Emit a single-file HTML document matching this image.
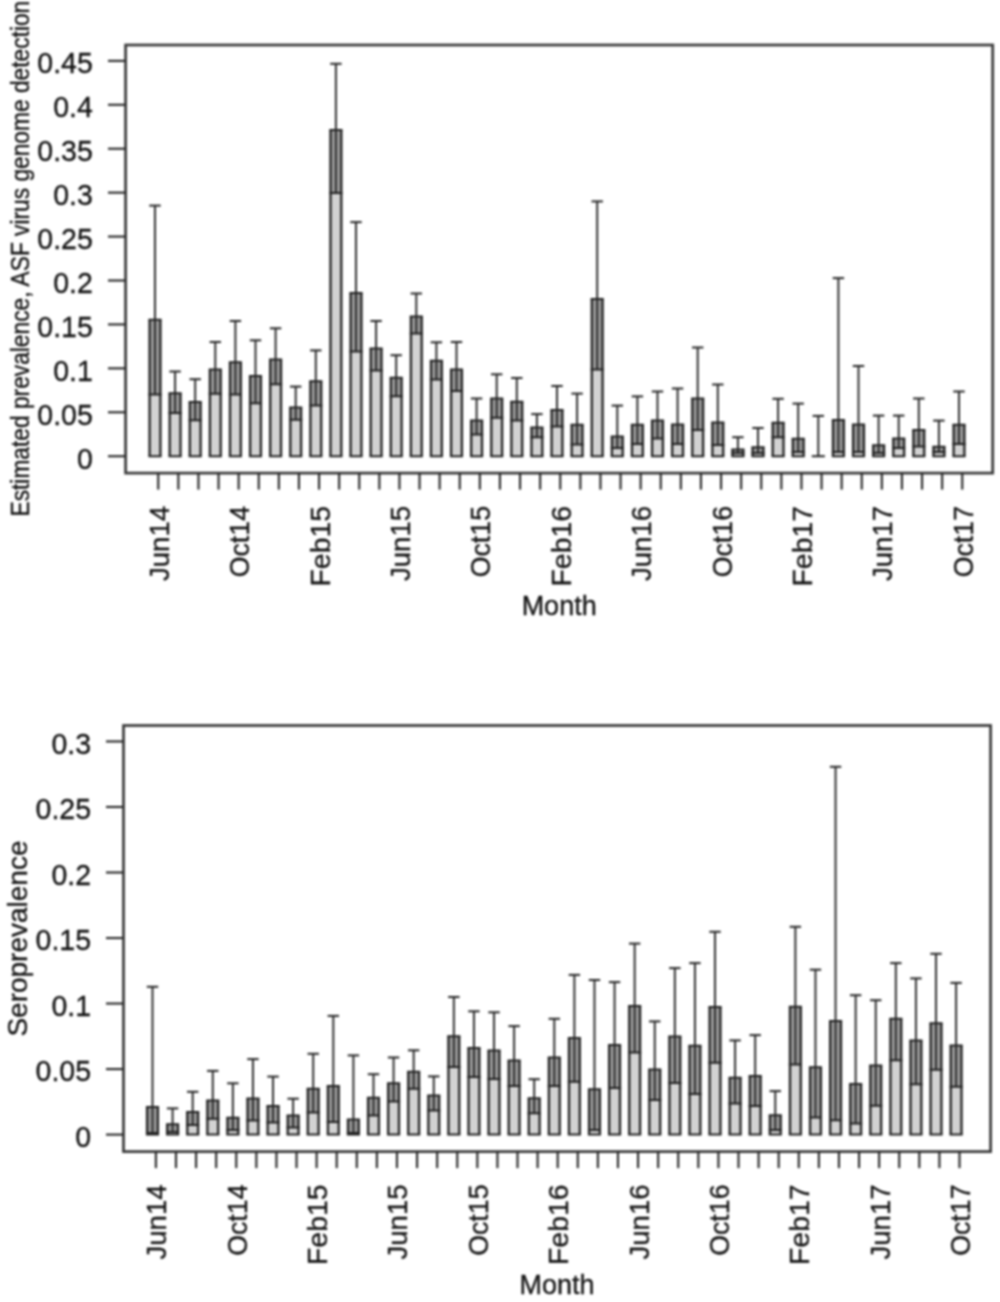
<!DOCTYPE html>
<html><head><meta charset="utf-8"><style>
html,body{margin:0;padding:0;background:#fff;}
svg{display:block;filter:blur(0.8px);}
text{font-family:"Liberation Sans",sans-serif;fill:#111;stroke:#111;stroke-width:0.3px;}
</style></head><body>
<svg width="1000" height="1302" viewBox="0 0 1000 1302">
<rect width="1000" height="1302" fill="#fff"/>
<g>
<rect width="1000" height="1302" fill="#fff"/>
<rect x="149.60" y="319.70" width="10.8" height="74.70" fill="#9c9c9c"/>
<rect x="149.60" y="394.40" width="10.8" height="61.80" fill="#d2d2d2"/>
<line x1="155.00" x2="155.00" y1="394.40" y2="205.60" stroke="#262626" stroke-width="1.9"/>
<line x1="149.30" x2="160.70" y1="205.60" y2="205.60" stroke="#262626" stroke-width="2"/>
<path d="M149.60,456.20V319.70M160.40,456.20V319.70" stroke="#222222" stroke-width="2.3" fill="none"/>
<path d="M148.45,456.20H161.55M148.45,319.70H161.55M148.45,394.40H161.55" stroke="#222222" stroke-width="2.0" fill="none"/>
<rect x="169.70" y="393.30" width="10.8" height="19.70" fill="#9c9c9c"/>
<rect x="169.70" y="413.00" width="10.8" height="43.20" fill="#d2d2d2"/>
<line x1="175.10" x2="175.10" y1="413.00" y2="371.50" stroke="#262626" stroke-width="1.9"/>
<line x1="169.40" x2="180.80" y1="371.50" y2="371.50" stroke="#262626" stroke-width="2"/>
<path d="M169.70,456.20V393.30M180.50,456.20V393.30" stroke="#222222" stroke-width="2.3" fill="none"/>
<path d="M168.55,456.20H181.65M168.55,393.30H181.65M168.55,413.00H181.65" stroke="#222222" stroke-width="2.0" fill="none"/>
<rect x="189.80" y="402.00" width="10.8" height="18.30" fill="#9c9c9c"/>
<rect x="189.80" y="420.30" width="10.8" height="35.90" fill="#d2d2d2"/>
<line x1="195.20" x2="195.20" y1="420.30" y2="379.20" stroke="#262626" stroke-width="1.9"/>
<line x1="189.50" x2="200.90" y1="379.20" y2="379.20" stroke="#262626" stroke-width="2"/>
<path d="M189.80,456.20V402.00M200.60,456.20V402.00" stroke="#222222" stroke-width="2.3" fill="none"/>
<path d="M188.65,456.20H201.75M188.65,402.00H201.75M188.65,420.30H201.75" stroke="#222222" stroke-width="2.0" fill="none"/>
<rect x="209.90" y="369.50" width="10.8" height="24.20" fill="#9c9c9c"/>
<rect x="209.90" y="393.70" width="10.8" height="62.50" fill="#d2d2d2"/>
<line x1="215.30" x2="215.30" y1="393.70" y2="342.00" stroke="#262626" stroke-width="1.9"/>
<line x1="209.60" x2="221.00" y1="342.00" y2="342.00" stroke="#262626" stroke-width="2"/>
<path d="M209.90,456.20V369.50M220.70,456.20V369.50" stroke="#222222" stroke-width="2.3" fill="none"/>
<path d="M208.75,456.20H221.85M208.75,369.50H221.85M208.75,393.70H221.85" stroke="#222222" stroke-width="2.0" fill="none"/>
<rect x="230.00" y="362.20" width="10.8" height="32.20" fill="#9c9c9c"/>
<rect x="230.00" y="394.40" width="10.8" height="61.80" fill="#d2d2d2"/>
<line x1="235.40" x2="235.40" y1="394.40" y2="321.00" stroke="#262626" stroke-width="1.9"/>
<line x1="229.70" x2="241.10" y1="321.00" y2="321.00" stroke="#262626" stroke-width="2"/>
<path d="M230.00,456.20V362.20M240.80,456.20V362.20" stroke="#222222" stroke-width="2.3" fill="none"/>
<path d="M228.85,456.20H241.95M228.85,362.20H241.95M228.85,394.40H241.95" stroke="#222222" stroke-width="2.0" fill="none"/>
<rect x="250.10" y="375.90" width="10.8" height="27.30" fill="#9c9c9c"/>
<rect x="250.10" y="403.20" width="10.8" height="53.00" fill="#d2d2d2"/>
<line x1="255.50" x2="255.50" y1="403.20" y2="340.30" stroke="#262626" stroke-width="1.9"/>
<line x1="249.80" x2="261.20" y1="340.30" y2="340.30" stroke="#262626" stroke-width="2"/>
<path d="M250.10,456.20V375.90M260.90,456.20V375.90" stroke="#222222" stroke-width="2.3" fill="none"/>
<path d="M248.95,456.20H262.05M248.95,375.90H262.05M248.95,403.20H262.05" stroke="#222222" stroke-width="2.0" fill="none"/>
<rect x="270.20" y="359.60" width="10.8" height="24.60" fill="#9c9c9c"/>
<rect x="270.20" y="384.20" width="10.8" height="72.00" fill="#d2d2d2"/>
<line x1="275.60" x2="275.60" y1="384.20" y2="328.30" stroke="#262626" stroke-width="1.9"/>
<line x1="269.90" x2="281.30" y1="328.30" y2="328.30" stroke="#262626" stroke-width="2"/>
<path d="M270.20,456.20V359.60M281.00,456.20V359.60" stroke="#222222" stroke-width="2.3" fill="none"/>
<path d="M269.05,456.20H282.15M269.05,359.60H282.15M269.05,384.20H282.15" stroke="#222222" stroke-width="2.0" fill="none"/>
<rect x="290.30" y="407.50" width="10.8" height="12.30" fill="#9c9c9c"/>
<rect x="290.30" y="419.80" width="10.8" height="36.40" fill="#d2d2d2"/>
<line x1="295.70" x2="295.70" y1="419.80" y2="386.60" stroke="#262626" stroke-width="1.9"/>
<line x1="290.00" x2="301.40" y1="386.60" y2="386.60" stroke="#262626" stroke-width="2"/>
<path d="M290.30,456.20V407.50M301.10,456.20V407.50" stroke="#222222" stroke-width="2.3" fill="none"/>
<path d="M289.15,456.20H302.25M289.15,407.50H302.25M289.15,419.80H302.25" stroke="#222222" stroke-width="2.0" fill="none"/>
<rect x="310.40" y="381.30" width="10.8" height="24.10" fill="#9c9c9c"/>
<rect x="310.40" y="405.40" width="10.8" height="50.80" fill="#d2d2d2"/>
<line x1="315.80" x2="315.80" y1="405.40" y2="350.40" stroke="#262626" stroke-width="1.9"/>
<line x1="310.10" x2="321.50" y1="350.40" y2="350.40" stroke="#262626" stroke-width="2"/>
<path d="M310.40,456.20V381.30M321.20,456.20V381.30" stroke="#222222" stroke-width="2.3" fill="none"/>
<path d="M309.25,456.20H322.35M309.25,381.30H322.35M309.25,405.40H322.35" stroke="#222222" stroke-width="2.0" fill="none"/>
<rect x="330.50" y="129.90" width="10.8" height="63.00" fill="#9c9c9c"/>
<rect x="330.50" y="192.90" width="10.8" height="263.30" fill="#d2d2d2"/>
<line x1="335.90" x2="335.90" y1="192.90" y2="63.80" stroke="#262626" stroke-width="1.9"/>
<line x1="330.20" x2="341.60" y1="63.80" y2="63.80" stroke="#262626" stroke-width="2"/>
<path d="M330.50,456.20V129.90M341.30,456.20V129.90" stroke="#222222" stroke-width="2.3" fill="none"/>
<path d="M329.35,456.20H342.45M329.35,129.90H342.45M329.35,192.90H342.45" stroke="#222222" stroke-width="2.0" fill="none"/>
<rect x="350.60" y="293.10" width="10.8" height="58.50" fill="#9c9c9c"/>
<rect x="350.60" y="351.60" width="10.8" height="104.60" fill="#d2d2d2"/>
<line x1="356.00" x2="356.00" y1="351.60" y2="222.10" stroke="#262626" stroke-width="1.9"/>
<line x1="350.30" x2="361.70" y1="222.10" y2="222.10" stroke="#262626" stroke-width="2"/>
<path d="M350.60,456.20V293.10M361.40,456.20V293.10" stroke="#222222" stroke-width="2.3" fill="none"/>
<path d="M349.45,456.20H362.55M349.45,293.10H362.55M349.45,351.60H362.55" stroke="#222222" stroke-width="2.0" fill="none"/>
<rect x="370.70" y="348.40" width="10.8" height="22.10" fill="#9c9c9c"/>
<rect x="370.70" y="370.50" width="10.8" height="85.70" fill="#d2d2d2"/>
<line x1="376.10" x2="376.10" y1="370.50" y2="321.00" stroke="#262626" stroke-width="1.9"/>
<line x1="370.40" x2="381.80" y1="321.00" y2="321.00" stroke="#262626" stroke-width="2"/>
<path d="M370.70,456.20V348.40M381.50,456.20V348.40" stroke="#222222" stroke-width="2.3" fill="none"/>
<path d="M369.55,456.20H382.65M369.55,348.40H382.65M369.55,370.50H382.65" stroke="#222222" stroke-width="2.0" fill="none"/>
<rect x="390.80" y="377.70" width="10.8" height="18.60" fill="#9c9c9c"/>
<rect x="390.80" y="396.30" width="10.8" height="59.90" fill="#d2d2d2"/>
<line x1="396.20" x2="396.20" y1="396.30" y2="355.20" stroke="#262626" stroke-width="1.9"/>
<line x1="390.50" x2="401.90" y1="355.20" y2="355.20" stroke="#262626" stroke-width="2"/>
<path d="M390.80,456.20V377.70M401.60,456.20V377.70" stroke="#222222" stroke-width="2.3" fill="none"/>
<path d="M389.65,456.20H402.75M389.65,377.70H402.75M389.65,396.30H402.75" stroke="#222222" stroke-width="2.0" fill="none"/>
<rect x="410.90" y="316.50" width="10.8" height="16.90" fill="#9c9c9c"/>
<rect x="410.90" y="333.40" width="10.8" height="122.80" fill="#d2d2d2"/>
<line x1="416.30" x2="416.30" y1="333.40" y2="293.50" stroke="#262626" stroke-width="1.9"/>
<line x1="410.60" x2="422.00" y1="293.50" y2="293.50" stroke="#262626" stroke-width="2"/>
<path d="M410.90,456.20V316.50M421.70,456.20V316.50" stroke="#222222" stroke-width="2.3" fill="none"/>
<path d="M409.75,456.20H422.85M409.75,316.50H422.85M409.75,333.40H422.85" stroke="#222222" stroke-width="2.0" fill="none"/>
<rect x="431.00" y="360.80" width="10.8" height="18.60" fill="#9c9c9c"/>
<rect x="431.00" y="379.40" width="10.8" height="76.80" fill="#d2d2d2"/>
<line x1="436.40" x2="436.40" y1="379.40" y2="342.30" stroke="#262626" stroke-width="1.9"/>
<line x1="430.70" x2="442.10" y1="342.30" y2="342.30" stroke="#262626" stroke-width="2"/>
<path d="M431.00,456.20V360.80M441.80,456.20V360.80" stroke="#222222" stroke-width="2.3" fill="none"/>
<path d="M429.85,456.20H442.95M429.85,360.80H442.95M429.85,379.40H442.95" stroke="#222222" stroke-width="2.0" fill="none"/>
<rect x="451.10" y="369.50" width="10.8" height="21.50" fill="#9c9c9c"/>
<rect x="451.10" y="391.00" width="10.8" height="65.20" fill="#d2d2d2"/>
<line x1="456.50" x2="456.50" y1="391.00" y2="342.00" stroke="#262626" stroke-width="1.9"/>
<line x1="450.80" x2="462.20" y1="342.00" y2="342.00" stroke="#262626" stroke-width="2"/>
<path d="M451.10,456.20V369.50M461.90,456.20V369.50" stroke="#222222" stroke-width="2.3" fill="none"/>
<path d="M449.95,456.20H463.05M449.95,369.50H463.05M449.95,391.00H463.05" stroke="#222222" stroke-width="2.0" fill="none"/>
<rect x="471.20" y="420.50" width="10.8" height="14.00" fill="#9c9c9c"/>
<rect x="471.20" y="434.50" width="10.8" height="21.70" fill="#d2d2d2"/>
<line x1="476.60" x2="476.60" y1="434.50" y2="398.50" stroke="#262626" stroke-width="1.9"/>
<line x1="470.90" x2="482.30" y1="398.50" y2="398.50" stroke="#262626" stroke-width="2"/>
<path d="M471.20,456.20V420.50M482.00,456.20V420.50" stroke="#222222" stroke-width="2.3" fill="none"/>
<path d="M470.05,456.20H483.15M470.05,420.50H483.15M470.05,434.50H483.15" stroke="#222222" stroke-width="2.0" fill="none"/>
<rect x="491.30" y="398.50" width="10.8" height="19.30" fill="#9c9c9c"/>
<rect x="491.30" y="417.80" width="10.8" height="38.40" fill="#d2d2d2"/>
<line x1="496.70" x2="496.70" y1="417.80" y2="374.30" stroke="#262626" stroke-width="1.9"/>
<line x1="491.00" x2="502.40" y1="374.30" y2="374.30" stroke="#262626" stroke-width="2"/>
<path d="M491.30,456.20V398.50M502.10,456.20V398.50" stroke="#222222" stroke-width="2.3" fill="none"/>
<path d="M490.15,456.20H503.25M490.15,398.50H503.25M490.15,417.80H503.25" stroke="#222222" stroke-width="2.0" fill="none"/>
<rect x="511.40" y="401.70" width="10.8" height="18.80" fill="#9c9c9c"/>
<rect x="511.40" y="420.50" width="10.8" height="35.70" fill="#d2d2d2"/>
<line x1="516.80" x2="516.80" y1="420.50" y2="378.00" stroke="#262626" stroke-width="1.9"/>
<line x1="511.10" x2="522.50" y1="378.00" y2="378.00" stroke="#262626" stroke-width="2"/>
<path d="M511.40,456.20V401.70M522.20,456.20V401.70" stroke="#222222" stroke-width="2.3" fill="none"/>
<path d="M510.25,456.20H523.35M510.25,401.70H523.35M510.25,420.50H523.35" stroke="#222222" stroke-width="2.0" fill="none"/>
<rect x="531.50" y="427.50" width="10.8" height="9.70" fill="#9c9c9c"/>
<rect x="531.50" y="437.20" width="10.8" height="19.00" fill="#d2d2d2"/>
<line x1="536.90" x2="536.90" y1="437.20" y2="414.10" stroke="#262626" stroke-width="1.9"/>
<line x1="531.20" x2="542.60" y1="414.10" y2="414.10" stroke="#262626" stroke-width="2"/>
<path d="M531.50,456.20V427.50M542.30,456.20V427.50" stroke="#222222" stroke-width="2.3" fill="none"/>
<path d="M530.35,456.20H543.45M530.35,427.50H543.45M530.35,437.20H543.45" stroke="#222222" stroke-width="2.0" fill="none"/>
<rect x="551.60" y="409.90" width="10.8" height="16.60" fill="#9c9c9c"/>
<rect x="551.60" y="426.50" width="10.8" height="29.70" fill="#d2d2d2"/>
<line x1="557.00" x2="557.00" y1="426.50" y2="386.00" stroke="#262626" stroke-width="1.9"/>
<line x1="551.30" x2="562.70" y1="386.00" y2="386.00" stroke="#262626" stroke-width="2"/>
<path d="M551.60,456.20V409.90M562.40,456.20V409.90" stroke="#222222" stroke-width="2.3" fill="none"/>
<path d="M550.45,456.20H563.55M550.45,409.90H563.55M550.45,426.50H563.55" stroke="#222222" stroke-width="2.0" fill="none"/>
<rect x="571.70" y="424.80" width="10.8" height="19.60" fill="#9c9c9c"/>
<rect x="571.70" y="444.40" width="10.8" height="11.80" fill="#d2d2d2"/>
<line x1="577.10" x2="577.10" y1="444.40" y2="393.60" stroke="#262626" stroke-width="1.9"/>
<line x1="571.40" x2="582.80" y1="393.60" y2="393.60" stroke="#262626" stroke-width="2"/>
<path d="M571.70,456.20V424.80M582.50,456.20V424.80" stroke="#222222" stroke-width="2.3" fill="none"/>
<path d="M570.55,456.20H583.65M570.55,424.80H583.65M570.55,444.40H583.65" stroke="#222222" stroke-width="2.0" fill="none"/>
<rect x="591.80" y="298.90" width="10.8" height="70.60" fill="#9c9c9c"/>
<rect x="591.80" y="369.50" width="10.8" height="86.70" fill="#d2d2d2"/>
<line x1="597.20" x2="597.20" y1="369.50" y2="201.40" stroke="#262626" stroke-width="1.9"/>
<line x1="591.50" x2="602.90" y1="201.40" y2="201.40" stroke="#262626" stroke-width="2"/>
<path d="M591.80,456.20V298.90M602.60,456.20V298.90" stroke="#222222" stroke-width="2.3" fill="none"/>
<path d="M590.65,456.20H603.75M590.65,298.90H603.75M590.65,369.50H603.75" stroke="#222222" stroke-width="2.0" fill="none"/>
<rect x="611.90" y="436.40" width="10.8" height="11.60" fill="#9c9c9c"/>
<rect x="611.90" y="448.00" width="10.8" height="8.20" fill="#d2d2d2"/>
<line x1="617.30" x2="617.30" y1="448.00" y2="405.60" stroke="#262626" stroke-width="1.9"/>
<line x1="611.60" x2="623.00" y1="405.60" y2="405.60" stroke="#262626" stroke-width="2"/>
<path d="M611.90,456.20V436.40M622.70,456.20V436.40" stroke="#222222" stroke-width="2.3" fill="none"/>
<path d="M610.75,456.20H623.85M610.75,436.40H623.85M610.75,448.00H623.85" stroke="#222222" stroke-width="2.0" fill="none"/>
<rect x="632.00" y="424.80" width="10.8" height="19.20" fill="#9c9c9c"/>
<rect x="632.00" y="444.00" width="10.8" height="12.20" fill="#d2d2d2"/>
<line x1="637.40" x2="637.40" y1="444.00" y2="396.40" stroke="#262626" stroke-width="1.9"/>
<line x1="631.70" x2="643.10" y1="396.40" y2="396.40" stroke="#262626" stroke-width="2"/>
<path d="M632.00,456.20V424.80M642.80,456.20V424.80" stroke="#222222" stroke-width="2.3" fill="none"/>
<path d="M630.85,456.20H643.95M630.85,424.80H643.95M630.85,444.00H643.95" stroke="#222222" stroke-width="2.0" fill="none"/>
<rect x="652.10" y="420.50" width="10.8" height="18.00" fill="#9c9c9c"/>
<rect x="652.10" y="438.50" width="10.8" height="17.70" fill="#d2d2d2"/>
<line x1="657.50" x2="657.50" y1="438.50" y2="391.50" stroke="#262626" stroke-width="1.9"/>
<line x1="651.80" x2="663.20" y1="391.50" y2="391.50" stroke="#262626" stroke-width="2"/>
<path d="M652.10,456.20V420.50M662.90,456.20V420.50" stroke="#222222" stroke-width="2.3" fill="none"/>
<path d="M650.95,456.20H664.05M650.95,420.50H664.05M650.95,438.50H664.05" stroke="#222222" stroke-width="2.0" fill="none"/>
<rect x="672.20" y="424.50" width="10.8" height="19.50" fill="#9c9c9c"/>
<rect x="672.20" y="444.00" width="10.8" height="12.20" fill="#d2d2d2"/>
<line x1="677.60" x2="677.60" y1="444.00" y2="388.50" stroke="#262626" stroke-width="1.9"/>
<line x1="671.90" x2="683.30" y1="388.50" y2="388.50" stroke="#262626" stroke-width="2"/>
<path d="M672.20,456.20V424.50M683.00,456.20V424.50" stroke="#222222" stroke-width="2.3" fill="none"/>
<path d="M671.05,456.20H684.15M671.05,424.50H684.15M671.05,444.00H684.15" stroke="#222222" stroke-width="2.0" fill="none"/>
<rect x="692.30" y="398.50" width="10.8" height="31.50" fill="#9c9c9c"/>
<rect x="692.30" y="430.00" width="10.8" height="26.20" fill="#d2d2d2"/>
<line x1="697.70" x2="697.70" y1="430.00" y2="347.50" stroke="#262626" stroke-width="1.9"/>
<line x1="692.00" x2="703.40" y1="347.50" y2="347.50" stroke="#262626" stroke-width="2"/>
<path d="M692.30,456.20V398.50M703.10,456.20V398.50" stroke="#222222" stroke-width="2.3" fill="none"/>
<path d="M691.15,456.20H704.25M691.15,398.50H704.25M691.15,430.00H704.25" stroke="#222222" stroke-width="2.0" fill="none"/>
<rect x="712.40" y="422.50" width="10.8" height="22.50" fill="#9c9c9c"/>
<rect x="712.40" y="445.00" width="10.8" height="11.20" fill="#d2d2d2"/>
<line x1="717.80" x2="717.80" y1="445.00" y2="384.50" stroke="#262626" stroke-width="1.9"/>
<line x1="712.10" x2="723.50" y1="384.50" y2="384.50" stroke="#262626" stroke-width="2"/>
<path d="M712.40,456.20V422.50M723.20,456.20V422.50" stroke="#222222" stroke-width="2.3" fill="none"/>
<path d="M711.25,456.20H724.35M711.25,422.50H724.35M711.25,445.00H724.35" stroke="#222222" stroke-width="2.0" fill="none"/>
<rect x="732.50" y="449.60" width="10.8" height="3.40" fill="#9c9c9c"/>
<rect x="732.50" y="453.00" width="10.8" height="3.20" fill="#d2d2d2"/>
<line x1="737.90" x2="737.90" y1="453.00" y2="437.20" stroke="#262626" stroke-width="1.9"/>
<line x1="732.20" x2="743.60" y1="437.20" y2="437.20" stroke="#262626" stroke-width="2"/>
<path d="M732.50,456.20V449.60M743.30,456.20V449.60" stroke="#222222" stroke-width="2.3" fill="none"/>
<path d="M731.35,456.20H744.45M731.35,449.60H744.45M731.35,453.00H744.45" stroke="#222222" stroke-width="2.0" fill="none"/>
<rect x="752.60" y="447.20" width="10.8" height="5.80" fill="#9c9c9c"/>
<rect x="752.60" y="453.00" width="10.8" height="3.20" fill="#d2d2d2"/>
<line x1="758.00" x2="758.00" y1="453.00" y2="428.00" stroke="#262626" stroke-width="1.9"/>
<line x1="752.30" x2="763.70" y1="428.00" y2="428.00" stroke="#262626" stroke-width="2"/>
<path d="M752.60,456.20V447.20M763.40,456.20V447.20" stroke="#222222" stroke-width="2.3" fill="none"/>
<path d="M751.45,456.20H764.55M751.45,447.20H764.55M751.45,453.00H764.55" stroke="#222222" stroke-width="2.0" fill="none"/>
<rect x="772.70" y="422.80" width="10.8" height="14.40" fill="#9c9c9c"/>
<rect x="772.70" y="437.20" width="10.8" height="19.00" fill="#d2d2d2"/>
<line x1="778.10" x2="778.10" y1="437.20" y2="398.80" stroke="#262626" stroke-width="1.9"/>
<line x1="772.40" x2="783.80" y1="398.80" y2="398.80" stroke="#262626" stroke-width="2"/>
<path d="M772.70,456.20V422.80M783.50,456.20V422.80" stroke="#222222" stroke-width="2.3" fill="none"/>
<path d="M771.55,456.20H784.65M771.55,422.80H784.65M771.55,437.20H784.65" stroke="#222222" stroke-width="2.0" fill="none"/>
<rect x="792.80" y="438.80" width="10.8" height="13.20" fill="#9c9c9c"/>
<rect x="792.80" y="452.00" width="10.8" height="4.20" fill="#d2d2d2"/>
<line x1="798.20" x2="798.20" y1="452.00" y2="403.60" stroke="#262626" stroke-width="1.9"/>
<line x1="792.50" x2="803.90" y1="403.60" y2="403.60" stroke="#262626" stroke-width="2"/>
<path d="M792.80,456.20V438.80M803.60,456.20V438.80" stroke="#222222" stroke-width="2.3" fill="none"/>
<path d="M791.65,456.20H804.75M791.65,438.80H804.75M791.65,452.00H804.75" stroke="#222222" stroke-width="2.0" fill="none"/>
<rect x="812.90" y="456.00" width="10.8" height="0.20" fill="#d2d2d2"/>
<line x1="818.30" x2="818.30" y1="456.00" y2="415.90" stroke="#262626" stroke-width="1.9"/>
<line x1="812.60" x2="824.00" y1="415.90" y2="415.90" stroke="#262626" stroke-width="2"/>
<path d="M811.75,456.20H824.85" stroke="#222222" stroke-width="2.0" fill="none"/>
<rect x="833.00" y="420.00" width="10.8" height="32.00" fill="#9c9c9c"/>
<rect x="833.00" y="452.00" width="10.8" height="4.20" fill="#d2d2d2"/>
<line x1="838.40" x2="838.40" y1="452.00" y2="278.10" stroke="#262626" stroke-width="1.9"/>
<line x1="832.70" x2="844.10" y1="278.10" y2="278.10" stroke="#262626" stroke-width="2"/>
<path d="M833.00,456.20V420.00M843.80,456.20V420.00" stroke="#222222" stroke-width="2.3" fill="none"/>
<path d="M831.85,456.20H844.95M831.85,420.00H844.95M831.85,452.00H844.95" stroke="#222222" stroke-width="2.0" fill="none"/>
<rect x="853.10" y="424.60" width="10.8" height="27.40" fill="#9c9c9c"/>
<rect x="853.10" y="452.00" width="10.8" height="4.20" fill="#d2d2d2"/>
<line x1="858.50" x2="858.50" y1="452.00" y2="366.00" stroke="#262626" stroke-width="1.9"/>
<line x1="852.80" x2="864.20" y1="366.00" y2="366.00" stroke="#262626" stroke-width="2"/>
<path d="M853.10,456.20V424.60M863.90,456.20V424.60" stroke="#222222" stroke-width="2.3" fill="none"/>
<path d="M851.95,456.20H865.05M851.95,424.60H865.05M851.95,452.00H865.05" stroke="#222222" stroke-width="2.0" fill="none"/>
<rect x="873.20" y="445.20" width="10.8" height="7.80" fill="#9c9c9c"/>
<rect x="873.20" y="453.00" width="10.8" height="3.20" fill="#d2d2d2"/>
<line x1="878.60" x2="878.60" y1="453.00" y2="415.60" stroke="#262626" stroke-width="1.9"/>
<line x1="872.90" x2="884.30" y1="415.60" y2="415.60" stroke="#262626" stroke-width="2"/>
<path d="M873.20,456.20V445.20M884.00,456.20V445.20" stroke="#222222" stroke-width="2.3" fill="none"/>
<path d="M872.05,456.20H885.15M872.05,445.20H885.15M872.05,453.00H885.15" stroke="#222222" stroke-width="2.0" fill="none"/>
<rect x="893.30" y="438.40" width="10.8" height="9.60" fill="#9c9c9c"/>
<rect x="893.30" y="448.00" width="10.8" height="8.20" fill="#d2d2d2"/>
<line x1="898.70" x2="898.70" y1="448.00" y2="415.60" stroke="#262626" stroke-width="1.9"/>
<line x1="893.00" x2="904.40" y1="415.60" y2="415.60" stroke="#262626" stroke-width="2"/>
<path d="M893.30,456.20V438.40M904.10,456.20V438.40" stroke="#222222" stroke-width="2.3" fill="none"/>
<path d="M892.15,456.20H905.25M892.15,438.40H905.25M892.15,448.00H905.25" stroke="#222222" stroke-width="2.0" fill="none"/>
<rect x="913.40" y="430.00" width="10.8" height="16.50" fill="#9c9c9c"/>
<rect x="913.40" y="446.50" width="10.8" height="9.70" fill="#d2d2d2"/>
<line x1="918.80" x2="918.80" y1="446.50" y2="398.50" stroke="#262626" stroke-width="1.9"/>
<line x1="913.10" x2="924.50" y1="398.50" y2="398.50" stroke="#262626" stroke-width="2"/>
<path d="M913.40,456.20V430.00M924.20,456.20V430.00" stroke="#222222" stroke-width="2.3" fill="none"/>
<path d="M912.25,456.20H925.35M912.25,430.00H925.35M912.25,446.50H925.35" stroke="#222222" stroke-width="2.0" fill="none"/>
<rect x="933.50" y="446.80" width="10.8" height="5.20" fill="#9c9c9c"/>
<rect x="933.50" y="452.00" width="10.8" height="4.20" fill="#d2d2d2"/>
<line x1="938.90" x2="938.90" y1="452.00" y2="420.60" stroke="#262626" stroke-width="1.9"/>
<line x1="933.20" x2="944.60" y1="420.60" y2="420.60" stroke="#262626" stroke-width="2"/>
<path d="M933.50,456.20V446.80M944.30,456.20V446.80" stroke="#222222" stroke-width="2.3" fill="none"/>
<path d="M932.35,456.20H945.45M932.35,446.80H945.45M932.35,452.00H945.45" stroke="#222222" stroke-width="2.0" fill="none"/>
<rect x="953.60" y="424.80" width="10.8" height="19.20" fill="#9c9c9c"/>
<rect x="953.60" y="444.00" width="10.8" height="12.20" fill="#d2d2d2"/>
<line x1="959.00" x2="959.00" y1="444.00" y2="391.50" stroke="#262626" stroke-width="1.9"/>
<line x1="953.30" x2="964.70" y1="391.50" y2="391.50" stroke="#262626" stroke-width="2"/>
<path d="M953.60,456.20V424.80M964.40,456.20V424.80" stroke="#222222" stroke-width="2.3" fill="none"/>
<path d="M952.45,456.20H965.55M952.45,424.80H965.55M952.45,444.00H965.55" stroke="#222222" stroke-width="2.0" fill="none"/>
<rect x="125.6" y="45" width="867.1" height="428.1" fill="none" stroke="#383838" stroke-width="2.7"/>
<line x1="108" x2="125.6" y1="456.20" y2="456.20" stroke="#262626" stroke-width="2.1"/>
<text transform="translate(92.8,468.60) scale(1,1.05)" text-anchor="end" font-size="28.5">0</text>
<line x1="108" x2="125.6" y1="412.27" y2="412.27" stroke="#262626" stroke-width="2.1"/>
<text transform="translate(92.8,424.67) scale(1,1.05)" text-anchor="end" font-size="28.5">0.05</text>
<line x1="108" x2="125.6" y1="368.35" y2="368.35" stroke="#262626" stroke-width="2.1"/>
<text transform="translate(92.8,380.75) scale(1,1.05)" text-anchor="end" font-size="28.5">0.1</text>
<line x1="108" x2="125.6" y1="324.42" y2="324.42" stroke="#262626" stroke-width="2.1"/>
<text transform="translate(92.8,336.82) scale(1,1.05)" text-anchor="end" font-size="28.5">0.15</text>
<line x1="108" x2="125.6" y1="280.50" y2="280.50" stroke="#262626" stroke-width="2.1"/>
<text transform="translate(92.8,292.90) scale(1,1.05)" text-anchor="end" font-size="28.5">0.2</text>
<line x1="108" x2="125.6" y1="236.57" y2="236.57" stroke="#262626" stroke-width="2.1"/>
<text transform="translate(92.8,248.97) scale(1,1.05)" text-anchor="end" font-size="28.5">0.25</text>
<line x1="108" x2="125.6" y1="192.65" y2="192.65" stroke="#262626" stroke-width="2.1"/>
<text transform="translate(92.8,205.05) scale(1,1.05)" text-anchor="end" font-size="28.5">0.3</text>
<line x1="108" x2="125.6" y1="148.72" y2="148.72" stroke="#262626" stroke-width="2.1"/>
<text transform="translate(92.8,161.12) scale(1,1.05)" text-anchor="end" font-size="28.5">0.35</text>
<line x1="108" x2="125.6" y1="104.80" y2="104.80" stroke="#262626" stroke-width="2.1"/>
<text transform="translate(92.8,117.20) scale(1,1.05)" text-anchor="end" font-size="28.5">0.4</text>
<line x1="108" x2="125.6" y1="60.88" y2="60.88" stroke="#262626" stroke-width="2.1"/>
<text transform="translate(92.8,73.28) scale(1,1.05)" text-anchor="end" font-size="28.5">0.45</text>
<line x1="158.25" x2="158.25" y1="473.1" y2="489.6" stroke="#262626" stroke-width="2.1"/>
<line x1="178.35" x2="178.35" y1="473.1" y2="489.6" stroke="#262626" stroke-width="2.1"/>
<line x1="198.45" x2="198.45" y1="473.1" y2="489.6" stroke="#262626" stroke-width="2.1"/>
<line x1="218.55" x2="218.55" y1="473.1" y2="489.6" stroke="#262626" stroke-width="2.1"/>
<line x1="238.65" x2="238.65" y1="473.1" y2="489.6" stroke="#262626" stroke-width="2.1"/>
<line x1="258.75" x2="258.75" y1="473.1" y2="489.6" stroke="#262626" stroke-width="2.1"/>
<line x1="278.85" x2="278.85" y1="473.1" y2="489.6" stroke="#262626" stroke-width="2.1"/>
<line x1="298.95" x2="298.95" y1="473.1" y2="489.6" stroke="#262626" stroke-width="2.1"/>
<line x1="319.05" x2="319.05" y1="473.1" y2="489.6" stroke="#262626" stroke-width="2.1"/>
<line x1="339.15" x2="339.15" y1="473.1" y2="489.6" stroke="#262626" stroke-width="2.1"/>
<line x1="359.25" x2="359.25" y1="473.1" y2="489.6" stroke="#262626" stroke-width="2.1"/>
<line x1="379.35" x2="379.35" y1="473.1" y2="489.6" stroke="#262626" stroke-width="2.1"/>
<line x1="399.45" x2="399.45" y1="473.1" y2="489.6" stroke="#262626" stroke-width="2.1"/>
<line x1="419.55" x2="419.55" y1="473.1" y2="489.6" stroke="#262626" stroke-width="2.1"/>
<line x1="439.65" x2="439.65" y1="473.1" y2="489.6" stroke="#262626" stroke-width="2.1"/>
<line x1="459.75" x2="459.75" y1="473.1" y2="489.6" stroke="#262626" stroke-width="2.1"/>
<line x1="479.85" x2="479.85" y1="473.1" y2="489.6" stroke="#262626" stroke-width="2.1"/>
<line x1="499.95" x2="499.95" y1="473.1" y2="489.6" stroke="#262626" stroke-width="2.1"/>
<line x1="520.05" x2="520.05" y1="473.1" y2="489.6" stroke="#262626" stroke-width="2.1"/>
<line x1="540.15" x2="540.15" y1="473.1" y2="489.6" stroke="#262626" stroke-width="2.1"/>
<line x1="560.25" x2="560.25" y1="473.1" y2="489.6" stroke="#262626" stroke-width="2.1"/>
<line x1="580.35" x2="580.35" y1="473.1" y2="489.6" stroke="#262626" stroke-width="2.1"/>
<line x1="600.45" x2="600.45" y1="473.1" y2="489.6" stroke="#262626" stroke-width="2.1"/>
<line x1="620.55" x2="620.55" y1="473.1" y2="489.6" stroke="#262626" stroke-width="2.1"/>
<line x1="640.65" x2="640.65" y1="473.1" y2="489.6" stroke="#262626" stroke-width="2.1"/>
<line x1="660.75" x2="660.75" y1="473.1" y2="489.6" stroke="#262626" stroke-width="2.1"/>
<line x1="680.85" x2="680.85" y1="473.1" y2="489.6" stroke="#262626" stroke-width="2.1"/>
<line x1="700.95" x2="700.95" y1="473.1" y2="489.6" stroke="#262626" stroke-width="2.1"/>
<line x1="721.05" x2="721.05" y1="473.1" y2="489.6" stroke="#262626" stroke-width="2.1"/>
<line x1="741.15" x2="741.15" y1="473.1" y2="489.6" stroke="#262626" stroke-width="2.1"/>
<line x1="761.25" x2="761.25" y1="473.1" y2="489.6" stroke="#262626" stroke-width="2.1"/>
<line x1="781.35" x2="781.35" y1="473.1" y2="489.6" stroke="#262626" stroke-width="2.1"/>
<line x1="801.45" x2="801.45" y1="473.1" y2="489.6" stroke="#262626" stroke-width="2.1"/>
<line x1="821.55" x2="821.55" y1="473.1" y2="489.6" stroke="#262626" stroke-width="2.1"/>
<line x1="841.65" x2="841.65" y1="473.1" y2="489.6" stroke="#262626" stroke-width="2.1"/>
<line x1="861.75" x2="861.75" y1="473.1" y2="489.6" stroke="#262626" stroke-width="2.1"/>
<line x1="881.85" x2="881.85" y1="473.1" y2="489.6" stroke="#262626" stroke-width="2.1"/>
<line x1="901.95" x2="901.95" y1="473.1" y2="489.6" stroke="#262626" stroke-width="2.1"/>
<line x1="922.05" x2="922.05" y1="473.1" y2="489.6" stroke="#262626" stroke-width="2.1"/>
<line x1="942.15" x2="942.15" y1="473.1" y2="489.6" stroke="#262626" stroke-width="2.1"/>
<line x1="962.25" x2="962.25" y1="473.1" y2="489.6" stroke="#262626" stroke-width="2.1"/>
<text transform="translate(168.75,506.0) rotate(-90) scale(1,1.02)" text-anchor="end" font-size="27.5" textLength="74.93" lengthAdjust="spacingAndGlyphs">Jun14</text>
<text transform="translate(249.15,506.0) rotate(-90) scale(1,1.02)" text-anchor="end" font-size="27.5" textLength="71.37" lengthAdjust="spacingAndGlyphs">Oct14</text>
<text transform="translate(329.55,506.0) rotate(-90) scale(1,1.02)" text-anchor="end" font-size="27.5" textLength="80.48" lengthAdjust="spacingAndGlyphs">Feb15</text>
<text transform="translate(409.95,506.0) rotate(-90) scale(1,1.02)" text-anchor="end" font-size="27.5" textLength="74.93" lengthAdjust="spacingAndGlyphs">Jun15</text>
<text transform="translate(490.35,506.0) rotate(-90) scale(1,1.02)" text-anchor="end" font-size="27.5" textLength="71.37" lengthAdjust="spacingAndGlyphs">Oct15</text>
<text transform="translate(570.75,506.0) rotate(-90) scale(1,1.02)" text-anchor="end" font-size="27.5" textLength="80.48" lengthAdjust="spacingAndGlyphs">Feb16</text>
<text transform="translate(651.15,506.0) rotate(-90) scale(1,1.02)" text-anchor="end" font-size="27.5" textLength="74.93" lengthAdjust="spacingAndGlyphs">Jun16</text>
<text transform="translate(731.55,506.0) rotate(-90) scale(1,1.02)" text-anchor="end" font-size="27.5" textLength="71.37" lengthAdjust="spacingAndGlyphs">Oct16</text>
<text transform="translate(811.95,506.0) rotate(-90) scale(1,1.02)" text-anchor="end" font-size="27.5" textLength="80.48" lengthAdjust="spacingAndGlyphs">Feb17</text>
<text transform="translate(892.35,506.0) rotate(-90) scale(1,1.02)" text-anchor="end" font-size="27.5" textLength="74.93" lengthAdjust="spacingAndGlyphs">Jun17</text>
<text transform="translate(972.75,506.0) rotate(-90) scale(1,1.02)" text-anchor="end" font-size="27.5" textLength="71.37" lengthAdjust="spacingAndGlyphs">Oct17</text>
<text x="559.15" y="614.5" text-anchor="middle" font-size="27">Month</text>
<text transform="translate(28.5,258.65) rotate(-90) scale(1,1.1)" text-anchor="middle" font-size="22.75">Estimated prevalence, ASF virus genome detection</text>
<rect x="147.10" y="1107.10" width="10.8" height="25.90" fill="#9c9c9c"/>
<rect x="147.10" y="1133.00" width="10.8" height="1.60" fill="#d2d2d2"/>
<line x1="152.50" x2="152.50" y1="1133.00" y2="986.80" stroke="#262626" stroke-width="1.9"/>
<line x1="146.80" x2="158.20" y1="986.80" y2="986.80" stroke="#262626" stroke-width="2"/>
<path d="M147.10,1134.60V1107.10M157.90,1134.60V1107.10" stroke="#222222" stroke-width="2.3" fill="none"/>
<path d="M145.95,1134.60H159.05M145.95,1107.10H159.05M145.95,1133.00H159.05" stroke="#222222" stroke-width="2.0" fill="none"/>
<rect x="167.19" y="1124.30" width="10.8" height="7.70" fill="#9c9c9c"/>
<rect x="167.19" y="1132.00" width="10.8" height="2.60" fill="#d2d2d2"/>
<line x1="172.59" x2="172.59" y1="1132.00" y2="1108.40" stroke="#262626" stroke-width="1.9"/>
<line x1="166.89" x2="178.29" y1="1108.40" y2="1108.40" stroke="#262626" stroke-width="2"/>
<path d="M167.19,1134.60V1124.30M177.99,1134.60V1124.30" stroke="#222222" stroke-width="2.3" fill="none"/>
<path d="M166.04,1134.60H179.14M166.04,1124.30H179.14M166.04,1132.00H179.14" stroke="#222222" stroke-width="2.0" fill="none"/>
<rect x="187.28" y="1112.00" width="10.8" height="13.00" fill="#9c9c9c"/>
<rect x="187.28" y="1125.00" width="10.8" height="9.60" fill="#d2d2d2"/>
<line x1="192.68" x2="192.68" y1="1125.00" y2="1091.80" stroke="#262626" stroke-width="1.9"/>
<line x1="186.98" x2="198.38" y1="1091.80" y2="1091.80" stroke="#262626" stroke-width="2"/>
<path d="M187.28,1134.60V1112.00M198.08,1134.60V1112.00" stroke="#222222" stroke-width="2.3" fill="none"/>
<path d="M186.13,1134.60H199.23M186.13,1112.00H199.23M186.13,1125.00H199.23" stroke="#222222" stroke-width="2.0" fill="none"/>
<rect x="207.37" y="1100.40" width="10.8" height="18.40" fill="#9c9c9c"/>
<rect x="207.37" y="1118.80" width="10.8" height="15.80" fill="#d2d2d2"/>
<line x1="212.77" x2="212.77" y1="1118.80" y2="1070.90" stroke="#262626" stroke-width="1.9"/>
<line x1="207.07" x2="218.47" y1="1070.90" y2="1070.90" stroke="#262626" stroke-width="2"/>
<path d="M207.37,1134.60V1100.40M218.17,1134.60V1100.40" stroke="#222222" stroke-width="2.3" fill="none"/>
<path d="M206.22,1134.60H219.32M206.22,1100.40H219.32M206.22,1118.80H219.32" stroke="#222222" stroke-width="2.0" fill="none"/>
<rect x="227.46" y="1117.70" width="10.8" height="12.30" fill="#9c9c9c"/>
<rect x="227.46" y="1130.00" width="10.8" height="4.60" fill="#d2d2d2"/>
<line x1="232.86" x2="232.86" y1="1130.00" y2="1083.30" stroke="#262626" stroke-width="1.9"/>
<line x1="227.16" x2="238.56" y1="1083.30" y2="1083.30" stroke="#262626" stroke-width="2"/>
<path d="M227.46,1134.60V1117.70M238.26,1134.60V1117.70" stroke="#222222" stroke-width="2.3" fill="none"/>
<path d="M226.31,1134.60H239.41M226.31,1117.70H239.41M226.31,1130.00H239.41" stroke="#222222" stroke-width="2.0" fill="none"/>
<rect x="247.55" y="1098.40" width="10.8" height="22.00" fill="#9c9c9c"/>
<rect x="247.55" y="1120.40" width="10.8" height="14.20" fill="#d2d2d2"/>
<line x1="252.95" x2="252.95" y1="1120.40" y2="1059.10" stroke="#262626" stroke-width="1.9"/>
<line x1="247.25" x2="258.65" y1="1059.10" y2="1059.10" stroke="#262626" stroke-width="2"/>
<path d="M247.55,1134.60V1098.40M258.35,1134.60V1098.40" stroke="#222222" stroke-width="2.3" fill="none"/>
<path d="M246.40,1134.60H259.50M246.40,1098.40H259.50M246.40,1120.40H259.50" stroke="#222222" stroke-width="2.0" fill="none"/>
<rect x="267.64" y="1105.90" width="10.8" height="16.70" fill="#9c9c9c"/>
<rect x="267.64" y="1122.60" width="10.8" height="12.00" fill="#d2d2d2"/>
<line x1="273.04" x2="273.04" y1="1122.60" y2="1076.60" stroke="#262626" stroke-width="1.9"/>
<line x1="267.34" x2="278.74" y1="1076.60" y2="1076.60" stroke="#262626" stroke-width="2"/>
<path d="M267.64,1134.60V1105.90M278.44,1134.60V1105.90" stroke="#222222" stroke-width="2.3" fill="none"/>
<path d="M266.49,1134.60H279.59M266.49,1105.90H279.59M266.49,1122.60H279.59" stroke="#222222" stroke-width="2.0" fill="none"/>
<rect x="287.73" y="1115.60" width="10.8" height="11.80" fill="#9c9c9c"/>
<rect x="287.73" y="1127.40" width="10.8" height="7.20" fill="#d2d2d2"/>
<line x1="293.13" x2="293.13" y1="1127.40" y2="1098.70" stroke="#262626" stroke-width="1.9"/>
<line x1="287.43" x2="298.83" y1="1098.70" y2="1098.70" stroke="#262626" stroke-width="2"/>
<path d="M287.73,1134.60V1115.60M298.53,1134.60V1115.60" stroke="#222222" stroke-width="2.3" fill="none"/>
<path d="M286.58,1134.60H299.68M286.58,1115.60H299.68M286.58,1127.40H299.68" stroke="#222222" stroke-width="2.0" fill="none"/>
<rect x="307.82" y="1088.70" width="10.8" height="23.70" fill="#9c9c9c"/>
<rect x="307.82" y="1112.40" width="10.8" height="22.20" fill="#d2d2d2"/>
<line x1="313.22" x2="313.22" y1="1112.40" y2="1053.80" stroke="#262626" stroke-width="1.9"/>
<line x1="307.52" x2="318.92" y1="1053.80" y2="1053.80" stroke="#262626" stroke-width="2"/>
<path d="M307.82,1134.60V1088.70M318.62,1134.60V1088.70" stroke="#222222" stroke-width="2.3" fill="none"/>
<path d="M306.67,1134.60H319.77M306.67,1088.70H319.77M306.67,1112.40H319.77" stroke="#222222" stroke-width="2.0" fill="none"/>
<rect x="327.91" y="1086.00" width="10.8" height="36.00" fill="#9c9c9c"/>
<rect x="327.91" y="1122.00" width="10.8" height="12.60" fill="#d2d2d2"/>
<line x1="333.31" x2="333.31" y1="1122.00" y2="1015.90" stroke="#262626" stroke-width="1.9"/>
<line x1="327.61" x2="339.01" y1="1015.90" y2="1015.90" stroke="#262626" stroke-width="2"/>
<path d="M327.91,1134.60V1086.00M338.71,1134.60V1086.00" stroke="#222222" stroke-width="2.3" fill="none"/>
<path d="M326.76,1134.60H339.86M326.76,1086.00H339.86M326.76,1122.00H339.86" stroke="#222222" stroke-width="2.0" fill="none"/>
<rect x="348.00" y="1119.40" width="10.8" height="13.60" fill="#9c9c9c"/>
<rect x="348.00" y="1133.00" width="10.8" height="1.60" fill="#d2d2d2"/>
<line x1="353.40" x2="353.40" y1="1133.00" y2="1055.40" stroke="#262626" stroke-width="1.9"/>
<line x1="347.70" x2="359.10" y1="1055.40" y2="1055.40" stroke="#262626" stroke-width="2"/>
<path d="M348.00,1134.60V1119.40M358.80,1134.60V1119.40" stroke="#222222" stroke-width="2.3" fill="none"/>
<path d="M346.85,1134.60H359.95M346.85,1119.40H359.95M346.85,1133.00H359.95" stroke="#222222" stroke-width="2.0" fill="none"/>
<rect x="368.09" y="1097.80" width="10.8" height="17.80" fill="#9c9c9c"/>
<rect x="368.09" y="1115.60" width="10.8" height="19.00" fill="#d2d2d2"/>
<line x1="373.49" x2="373.49" y1="1115.60" y2="1074.20" stroke="#262626" stroke-width="1.9"/>
<line x1="367.79" x2="379.19" y1="1074.20" y2="1074.20" stroke="#262626" stroke-width="2"/>
<path d="M368.09,1134.60V1097.80M378.89,1134.60V1097.80" stroke="#222222" stroke-width="2.3" fill="none"/>
<path d="M366.94,1134.60H380.04M366.94,1097.80H380.04M366.94,1115.60H380.04" stroke="#222222" stroke-width="2.0" fill="none"/>
<rect x="388.18" y="1083.30" width="10.8" height="18.30" fill="#9c9c9c"/>
<rect x="388.18" y="1101.60" width="10.8" height="33.00" fill="#d2d2d2"/>
<line x1="393.58" x2="393.58" y1="1101.60" y2="1057.50" stroke="#262626" stroke-width="1.9"/>
<line x1="387.88" x2="399.28" y1="1057.50" y2="1057.50" stroke="#262626" stroke-width="2"/>
<path d="M388.18,1134.60V1083.30M398.98,1134.60V1083.30" stroke="#222222" stroke-width="2.3" fill="none"/>
<path d="M387.03,1134.60H400.13M387.03,1083.30H400.13M387.03,1101.60H400.13" stroke="#222222" stroke-width="2.0" fill="none"/>
<rect x="408.27" y="1071.80" width="10.8" height="16.90" fill="#9c9c9c"/>
<rect x="408.27" y="1088.70" width="10.8" height="45.90" fill="#d2d2d2"/>
<line x1="413.67" x2="413.67" y1="1088.70" y2="1050.30" stroke="#262626" stroke-width="1.9"/>
<line x1="407.97" x2="419.37" y1="1050.30" y2="1050.30" stroke="#262626" stroke-width="2"/>
<path d="M408.27,1134.60V1071.80M419.07,1134.60V1071.80" stroke="#222222" stroke-width="2.3" fill="none"/>
<path d="M407.12,1134.60H420.22M407.12,1071.80H420.22M407.12,1088.70H420.22" stroke="#222222" stroke-width="2.0" fill="none"/>
<rect x="428.36" y="1095.50" width="10.8" height="15.10" fill="#9c9c9c"/>
<rect x="428.36" y="1110.60" width="10.8" height="24.00" fill="#d2d2d2"/>
<line x1="433.76" x2="433.76" y1="1110.60" y2="1076.40" stroke="#262626" stroke-width="1.9"/>
<line x1="428.06" x2="439.46" y1="1076.40" y2="1076.40" stroke="#262626" stroke-width="2"/>
<path d="M428.36,1134.60V1095.50M439.16,1134.60V1095.50" stroke="#222222" stroke-width="2.3" fill="none"/>
<path d="M427.21,1134.60H440.31M427.21,1095.50H440.31M427.21,1110.60H440.31" stroke="#222222" stroke-width="2.0" fill="none"/>
<rect x="448.45" y="1036.30" width="10.8" height="30.70" fill="#9c9c9c"/>
<rect x="448.45" y="1067.00" width="10.8" height="67.60" fill="#d2d2d2"/>
<line x1="453.85" x2="453.85" y1="1067.00" y2="997.00" stroke="#262626" stroke-width="1.9"/>
<line x1="448.15" x2="459.55" y1="997.00" y2="997.00" stroke="#262626" stroke-width="2"/>
<path d="M448.45,1134.60V1036.30M459.25,1134.60V1036.30" stroke="#222222" stroke-width="2.3" fill="none"/>
<path d="M447.30,1134.60H460.40M447.30,1036.30H460.40M447.30,1067.00H460.40" stroke="#222222" stroke-width="2.0" fill="none"/>
<rect x="468.54" y="1047.90" width="10.8" height="29.10" fill="#9c9c9c"/>
<rect x="468.54" y="1077.00" width="10.8" height="57.60" fill="#d2d2d2"/>
<line x1="473.94" x2="473.94" y1="1077.00" y2="1011.30" stroke="#262626" stroke-width="1.9"/>
<line x1="468.24" x2="479.64" y1="1011.30" y2="1011.30" stroke="#262626" stroke-width="2"/>
<path d="M468.54,1134.60V1047.90M479.34,1134.60V1047.90" stroke="#222222" stroke-width="2.3" fill="none"/>
<path d="M467.39,1134.60H480.49M467.39,1047.90H480.49M467.39,1077.00H480.49" stroke="#222222" stroke-width="2.0" fill="none"/>
<rect x="488.63" y="1050.40" width="10.8" height="28.50" fill="#9c9c9c"/>
<rect x="488.63" y="1078.90" width="10.8" height="55.70" fill="#d2d2d2"/>
<line x1="494.03" x2="494.03" y1="1078.90" y2="1012.30" stroke="#262626" stroke-width="1.9"/>
<line x1="488.33" x2="499.73" y1="1012.30" y2="1012.30" stroke="#262626" stroke-width="2"/>
<path d="M488.63,1134.60V1050.40M499.43,1134.60V1050.40" stroke="#222222" stroke-width="2.3" fill="none"/>
<path d="M487.48,1134.60H500.58M487.48,1050.40H500.58M487.48,1078.90H500.58" stroke="#222222" stroke-width="2.0" fill="none"/>
<rect x="508.72" y="1060.50" width="10.8" height="25.50" fill="#9c9c9c"/>
<rect x="508.72" y="1086.00" width="10.8" height="48.60" fill="#d2d2d2"/>
<line x1="514.12" x2="514.12" y1="1086.00" y2="1026.10" stroke="#262626" stroke-width="1.9"/>
<line x1="508.42" x2="519.82" y1="1026.10" y2="1026.10" stroke="#262626" stroke-width="2"/>
<path d="M508.72,1134.60V1060.50M519.52,1134.60V1060.50" stroke="#222222" stroke-width="2.3" fill="none"/>
<path d="M507.57,1134.60H520.67M507.57,1060.50H520.67M507.57,1086.00H520.67" stroke="#222222" stroke-width="2.0" fill="none"/>
<rect x="528.81" y="1098.30" width="10.8" height="15.00" fill="#9c9c9c"/>
<rect x="528.81" y="1113.30" width="10.8" height="21.30" fill="#d2d2d2"/>
<line x1="534.21" x2="534.21" y1="1113.30" y2="1079.20" stroke="#262626" stroke-width="1.9"/>
<line x1="528.51" x2="539.91" y1="1079.20" y2="1079.20" stroke="#262626" stroke-width="2"/>
<path d="M528.81,1134.60V1098.30M539.61,1134.60V1098.30" stroke="#222222" stroke-width="2.3" fill="none"/>
<path d="M527.66,1134.60H540.76M527.66,1098.30H540.76M527.66,1113.30H540.76" stroke="#222222" stroke-width="2.0" fill="none"/>
<rect x="548.90" y="1057.50" width="10.8" height="28.60" fill="#9c9c9c"/>
<rect x="548.90" y="1086.10" width="10.8" height="48.50" fill="#d2d2d2"/>
<line x1="554.30" x2="554.30" y1="1086.10" y2="1018.80" stroke="#262626" stroke-width="1.9"/>
<line x1="548.60" x2="560.00" y1="1018.80" y2="1018.80" stroke="#262626" stroke-width="2"/>
<path d="M548.90,1134.60V1057.50M559.70,1134.60V1057.50" stroke="#222222" stroke-width="2.3" fill="none"/>
<path d="M547.75,1134.60H560.85M547.75,1057.50H560.85M547.75,1086.10H560.85" stroke="#222222" stroke-width="2.0" fill="none"/>
<rect x="568.99" y="1038.10" width="10.8" height="43.60" fill="#9c9c9c"/>
<rect x="568.99" y="1081.70" width="10.8" height="52.90" fill="#d2d2d2"/>
<line x1="574.39" x2="574.39" y1="1081.70" y2="974.90" stroke="#262626" stroke-width="1.9"/>
<line x1="568.69" x2="580.09" y1="974.90" y2="974.90" stroke="#262626" stroke-width="2"/>
<path d="M568.99,1134.60V1038.10M579.79,1134.60V1038.10" stroke="#222222" stroke-width="2.3" fill="none"/>
<path d="M567.84,1134.60H580.94M567.84,1038.10H580.94M567.84,1081.70H580.94" stroke="#222222" stroke-width="2.0" fill="none"/>
<rect x="589.08" y="1089.30" width="10.8" height="40.70" fill="#9c9c9c"/>
<rect x="589.08" y="1130.00" width="10.8" height="4.60" fill="#d2d2d2"/>
<line x1="594.48" x2="594.48" y1="1130.00" y2="980.00" stroke="#262626" stroke-width="1.9"/>
<line x1="588.78" x2="600.18" y1="980.00" y2="980.00" stroke="#262626" stroke-width="2"/>
<path d="M589.08,1134.60V1089.30M599.88,1134.60V1089.30" stroke="#222222" stroke-width="2.3" fill="none"/>
<path d="M587.93,1134.60H601.03M587.93,1089.30H601.03M587.93,1130.00H601.03" stroke="#222222" stroke-width="2.0" fill="none"/>
<rect x="609.17" y="1045.00" width="10.8" height="43.00" fill="#9c9c9c"/>
<rect x="609.17" y="1088.00" width="10.8" height="46.60" fill="#d2d2d2"/>
<line x1="614.57" x2="614.57" y1="1088.00" y2="982.10" stroke="#262626" stroke-width="1.9"/>
<line x1="608.87" x2="620.27" y1="982.10" y2="982.10" stroke="#262626" stroke-width="2"/>
<path d="M609.17,1134.60V1045.00M619.97,1134.60V1045.00" stroke="#222222" stroke-width="2.3" fill="none"/>
<path d="M608.02,1134.60H621.12M608.02,1045.00H621.12M608.02,1088.00H621.12" stroke="#222222" stroke-width="2.0" fill="none"/>
<rect x="629.26" y="1006.10" width="10.8" height="46.50" fill="#9c9c9c"/>
<rect x="629.26" y="1052.60" width="10.8" height="82.00" fill="#d2d2d2"/>
<line x1="634.66" x2="634.66" y1="1052.60" y2="943.60" stroke="#262626" stroke-width="1.9"/>
<line x1="628.96" x2="640.36" y1="943.60" y2="943.60" stroke="#262626" stroke-width="2"/>
<path d="M629.26,1134.60V1006.10M640.06,1134.60V1006.10" stroke="#222222" stroke-width="2.3" fill="none"/>
<path d="M628.11,1134.60H641.21M628.11,1006.10H641.21M628.11,1052.60H641.21" stroke="#222222" stroke-width="2.0" fill="none"/>
<rect x="649.35" y="1069.50" width="10.8" height="30.40" fill="#9c9c9c"/>
<rect x="649.35" y="1099.90" width="10.8" height="34.70" fill="#d2d2d2"/>
<line x1="654.75" x2="654.75" y1="1099.90" y2="1021.40" stroke="#262626" stroke-width="1.9"/>
<line x1="649.05" x2="660.45" y1="1021.40" y2="1021.40" stroke="#262626" stroke-width="2"/>
<path d="M649.35,1134.60V1069.50M660.15,1134.60V1069.50" stroke="#222222" stroke-width="2.3" fill="none"/>
<path d="M648.20,1134.60H661.30M648.20,1069.50H661.30M648.20,1099.90H661.30" stroke="#222222" stroke-width="2.0" fill="none"/>
<rect x="669.44" y="1036.60" width="10.8" height="46.40" fill="#9c9c9c"/>
<rect x="669.44" y="1083.00" width="10.8" height="51.60" fill="#d2d2d2"/>
<line x1="674.84" x2="674.84" y1="1083.00" y2="968.10" stroke="#262626" stroke-width="1.9"/>
<line x1="669.14" x2="680.54" y1="968.10" y2="968.10" stroke="#262626" stroke-width="2"/>
<path d="M669.44,1134.60V1036.60M680.24,1134.60V1036.60" stroke="#222222" stroke-width="2.3" fill="none"/>
<path d="M668.29,1134.60H681.39M668.29,1036.60H681.39M668.29,1083.00H681.39" stroke="#222222" stroke-width="2.0" fill="none"/>
<rect x="689.53" y="1045.80" width="10.8" height="48.20" fill="#9c9c9c"/>
<rect x="689.53" y="1094.00" width="10.8" height="40.60" fill="#d2d2d2"/>
<line x1="694.93" x2="694.93" y1="1094.00" y2="963.10" stroke="#262626" stroke-width="1.9"/>
<line x1="689.23" x2="700.63" y1="963.10" y2="963.10" stroke="#262626" stroke-width="2"/>
<path d="M689.53,1134.60V1045.80M700.33,1134.60V1045.80" stroke="#222222" stroke-width="2.3" fill="none"/>
<path d="M688.38,1134.60H701.48M688.38,1045.80H701.48M688.38,1094.00H701.48" stroke="#222222" stroke-width="2.0" fill="none"/>
<rect x="709.62" y="1007.00" width="10.8" height="55.70" fill="#9c9c9c"/>
<rect x="709.62" y="1062.70" width="10.8" height="71.90" fill="#d2d2d2"/>
<line x1="715.02" x2="715.02" y1="1062.70" y2="931.80" stroke="#262626" stroke-width="1.9"/>
<line x1="709.32" x2="720.72" y1="931.80" y2="931.80" stroke="#262626" stroke-width="2"/>
<path d="M709.62,1134.60V1007.00M720.42,1134.60V1007.00" stroke="#222222" stroke-width="2.3" fill="none"/>
<path d="M708.47,1134.60H721.57M708.47,1007.00H721.57M708.47,1062.70H721.57" stroke="#222222" stroke-width="2.0" fill="none"/>
<rect x="729.71" y="1077.80" width="10.8" height="25.70" fill="#9c9c9c"/>
<rect x="729.71" y="1103.50" width="10.8" height="31.10" fill="#d2d2d2"/>
<line x1="735.11" x2="735.11" y1="1103.50" y2="1040.40" stroke="#262626" stroke-width="1.9"/>
<line x1="729.41" x2="740.81" y1="1040.40" y2="1040.40" stroke="#262626" stroke-width="2"/>
<path d="M729.71,1134.60V1077.80M740.51,1134.60V1077.80" stroke="#222222" stroke-width="2.3" fill="none"/>
<path d="M728.56,1134.60H741.66M728.56,1077.80H741.66M728.56,1103.50H741.66" stroke="#222222" stroke-width="2.0" fill="none"/>
<rect x="749.80" y="1076.00" width="10.8" height="30.10" fill="#9c9c9c"/>
<rect x="749.80" y="1106.10" width="10.8" height="28.50" fill="#d2d2d2"/>
<line x1="755.20" x2="755.20" y1="1106.10" y2="1035.10" stroke="#262626" stroke-width="1.9"/>
<line x1="749.50" x2="760.90" y1="1035.10" y2="1035.10" stroke="#262626" stroke-width="2"/>
<path d="M749.80,1134.60V1076.00M760.60,1134.60V1076.00" stroke="#222222" stroke-width="2.3" fill="none"/>
<path d="M748.65,1134.60H761.75M748.65,1076.00H761.75M748.65,1106.10H761.75" stroke="#222222" stroke-width="2.0" fill="none"/>
<rect x="769.89" y="1115.30" width="10.8" height="14.70" fill="#9c9c9c"/>
<rect x="769.89" y="1130.00" width="10.8" height="4.60" fill="#d2d2d2"/>
<line x1="775.29" x2="775.29" y1="1130.00" y2="1091.10" stroke="#262626" stroke-width="1.9"/>
<line x1="769.59" x2="780.99" y1="1091.10" y2="1091.10" stroke="#262626" stroke-width="2"/>
<path d="M769.89,1134.60V1115.30M780.69,1134.60V1115.30" stroke="#222222" stroke-width="2.3" fill="none"/>
<path d="M768.74,1134.60H781.84M768.74,1115.30H781.84M768.74,1130.00H781.84" stroke="#222222" stroke-width="2.0" fill="none"/>
<rect x="789.98" y="1006.80" width="10.8" height="57.80" fill="#9c9c9c"/>
<rect x="789.98" y="1064.60" width="10.8" height="70.00" fill="#d2d2d2"/>
<line x1="795.38" x2="795.38" y1="1064.60" y2="926.80" stroke="#262626" stroke-width="1.9"/>
<line x1="789.68" x2="801.08" y1="926.80" y2="926.80" stroke="#262626" stroke-width="2"/>
<path d="M789.98,1134.60V1006.80M800.78,1134.60V1006.80" stroke="#222222" stroke-width="2.3" fill="none"/>
<path d="M788.83,1134.60H801.93M788.83,1006.80H801.93M788.83,1064.60H801.93" stroke="#222222" stroke-width="2.0" fill="none"/>
<rect x="810.07" y="1067.20" width="10.8" height="50.40" fill="#9c9c9c"/>
<rect x="810.07" y="1117.60" width="10.8" height="17.00" fill="#d2d2d2"/>
<line x1="815.47" x2="815.47" y1="1117.60" y2="969.70" stroke="#262626" stroke-width="1.9"/>
<line x1="809.77" x2="821.17" y1="969.70" y2="969.70" stroke="#262626" stroke-width="2"/>
<path d="M810.07,1134.60V1067.20M820.87,1134.60V1067.20" stroke="#222222" stroke-width="2.3" fill="none"/>
<path d="M808.92,1134.60H822.02M808.92,1067.20H822.02M808.92,1117.60H822.02" stroke="#222222" stroke-width="2.0" fill="none"/>
<rect x="830.16" y="1021.00" width="10.8" height="99.20" fill="#9c9c9c"/>
<rect x="830.16" y="1120.20" width="10.8" height="14.40" fill="#d2d2d2"/>
<line x1="835.56" x2="835.56" y1="1120.20" y2="766.80" stroke="#262626" stroke-width="1.9"/>
<line x1="829.86" x2="841.26" y1="766.80" y2="766.80" stroke="#262626" stroke-width="2"/>
<path d="M830.16,1134.60V1021.00M840.96,1134.60V1021.00" stroke="#222222" stroke-width="2.3" fill="none"/>
<path d="M829.01,1134.60H842.11M829.01,1021.00H842.11M829.01,1120.20H842.11" stroke="#222222" stroke-width="2.0" fill="none"/>
<rect x="850.25" y="1083.90" width="10.8" height="39.60" fill="#9c9c9c"/>
<rect x="850.25" y="1123.50" width="10.8" height="11.10" fill="#d2d2d2"/>
<line x1="855.65" x2="855.65" y1="1123.50" y2="995.20" stroke="#262626" stroke-width="1.9"/>
<line x1="849.95" x2="861.35" y1="995.20" y2="995.20" stroke="#262626" stroke-width="2"/>
<path d="M850.25,1134.60V1083.90M861.05,1134.60V1083.90" stroke="#222222" stroke-width="2.3" fill="none"/>
<path d="M849.10,1134.60H862.20M849.10,1083.90H862.20M849.10,1123.50H862.20" stroke="#222222" stroke-width="2.0" fill="none"/>
<rect x="870.34" y="1065.60" width="10.8" height="40.20" fill="#9c9c9c"/>
<rect x="870.34" y="1105.80" width="10.8" height="28.80" fill="#d2d2d2"/>
<line x1="875.74" x2="875.74" y1="1105.80" y2="1000.20" stroke="#262626" stroke-width="1.9"/>
<line x1="870.04" x2="881.44" y1="1000.20" y2="1000.20" stroke="#262626" stroke-width="2"/>
<path d="M870.34,1134.60V1065.60M881.14,1134.60V1065.60" stroke="#222222" stroke-width="2.3" fill="none"/>
<path d="M869.19,1134.60H882.29M869.19,1065.60H882.29M869.19,1105.80H882.29" stroke="#222222" stroke-width="2.0" fill="none"/>
<rect x="890.43" y="1018.80" width="10.8" height="41.40" fill="#9c9c9c"/>
<rect x="890.43" y="1060.20" width="10.8" height="74.40" fill="#d2d2d2"/>
<line x1="895.83" x2="895.83" y1="1060.20" y2="963.10" stroke="#262626" stroke-width="1.9"/>
<line x1="890.13" x2="901.53" y1="963.10" y2="963.10" stroke="#262626" stroke-width="2"/>
<path d="M890.43,1134.60V1018.80M901.23,1134.60V1018.80" stroke="#222222" stroke-width="2.3" fill="none"/>
<path d="M889.28,1134.60H902.38M889.28,1018.80H902.38M889.28,1060.20H902.38" stroke="#222222" stroke-width="2.0" fill="none"/>
<rect x="910.52" y="1040.50" width="10.8" height="43.70" fill="#9c9c9c"/>
<rect x="910.52" y="1084.20" width="10.8" height="50.40" fill="#d2d2d2"/>
<line x1="915.92" x2="915.92" y1="1084.20" y2="978.40" stroke="#262626" stroke-width="1.9"/>
<line x1="910.22" x2="921.62" y1="978.40" y2="978.40" stroke="#262626" stroke-width="2"/>
<path d="M910.52,1134.60V1040.50M921.32,1134.60V1040.50" stroke="#222222" stroke-width="2.3" fill="none"/>
<path d="M909.37,1134.60H922.47M909.37,1040.50H922.47M909.37,1084.20H922.47" stroke="#222222" stroke-width="2.0" fill="none"/>
<rect x="930.61" y="1023.20" width="10.8" height="46.50" fill="#9c9c9c"/>
<rect x="930.61" y="1069.70" width="10.8" height="64.90" fill="#d2d2d2"/>
<line x1="936.01" x2="936.01" y1="1069.70" y2="953.80" stroke="#262626" stroke-width="1.9"/>
<line x1="930.31" x2="941.71" y1="953.80" y2="953.80" stroke="#262626" stroke-width="2"/>
<path d="M930.61,1134.60V1023.20M941.41,1134.60V1023.20" stroke="#222222" stroke-width="2.3" fill="none"/>
<path d="M929.46,1134.60H942.56M929.46,1023.20H942.56M929.46,1069.70H942.56" stroke="#222222" stroke-width="2.0" fill="none"/>
<rect x="950.70" y="1045.50" width="10.8" height="41.20" fill="#9c9c9c"/>
<rect x="950.70" y="1086.70" width="10.8" height="47.90" fill="#d2d2d2"/>
<line x1="956.10" x2="956.10" y1="1086.70" y2="982.90" stroke="#262626" stroke-width="1.9"/>
<line x1="950.40" x2="961.80" y1="982.90" y2="982.90" stroke="#262626" stroke-width="2"/>
<path d="M950.70,1134.60V1045.50M961.50,1134.60V1045.50" stroke="#222222" stroke-width="2.3" fill="none"/>
<path d="M949.55,1134.60H962.65M949.55,1045.50H962.65M949.55,1086.70H962.65" stroke="#222222" stroke-width="2.0" fill="none"/>
<rect x="123.5" y="725.5" width="867.1" height="426.0999999999999" fill="none" stroke="#383838" stroke-width="2.7"/>
<line x1="106" x2="123.5" y1="1134.60" y2="1134.60" stroke="#262626" stroke-width="2.1"/>
<text transform="translate(91.0,1147.00) scale(1,1.05)" text-anchor="end" font-size="28.5">0</text>
<line x1="106" x2="123.5" y1="1069.07" y2="1069.07" stroke="#262626" stroke-width="2.1"/>
<text transform="translate(91.0,1081.47) scale(1,1.05)" text-anchor="end" font-size="28.5">0.05</text>
<line x1="106" x2="123.5" y1="1003.55" y2="1003.55" stroke="#262626" stroke-width="2.1"/>
<text transform="translate(91.0,1015.95) scale(1,1.05)" text-anchor="end" font-size="28.5">0.1</text>
<line x1="106" x2="123.5" y1="938.02" y2="938.02" stroke="#262626" stroke-width="2.1"/>
<text transform="translate(91.0,950.42) scale(1,1.05)" text-anchor="end" font-size="28.5">0.15</text>
<line x1="106" x2="123.5" y1="872.50" y2="872.50" stroke="#262626" stroke-width="2.1"/>
<text transform="translate(91.0,884.90) scale(1,1.05)" text-anchor="end" font-size="28.5">0.2</text>
<line x1="106" x2="123.5" y1="806.97" y2="806.97" stroke="#262626" stroke-width="2.1"/>
<text transform="translate(91.0,819.37) scale(1,1.05)" text-anchor="end" font-size="28.5">0.25</text>
<line x1="106" x2="123.5" y1="741.45" y2="741.45" stroke="#262626" stroke-width="2.1"/>
<text transform="translate(91.0,753.85) scale(1,1.05)" text-anchor="end" font-size="28.5">0.3</text>
<line x1="155.90" x2="155.90" y1="1151.6" y2="1168.1" stroke="#262626" stroke-width="2.1"/>
<line x1="175.99" x2="175.99" y1="1151.6" y2="1168.1" stroke="#262626" stroke-width="2.1"/>
<line x1="196.08" x2="196.08" y1="1151.6" y2="1168.1" stroke="#262626" stroke-width="2.1"/>
<line x1="216.17" x2="216.17" y1="1151.6" y2="1168.1" stroke="#262626" stroke-width="2.1"/>
<line x1="236.26" x2="236.26" y1="1151.6" y2="1168.1" stroke="#262626" stroke-width="2.1"/>
<line x1="256.35" x2="256.35" y1="1151.6" y2="1168.1" stroke="#262626" stroke-width="2.1"/>
<line x1="276.44" x2="276.44" y1="1151.6" y2="1168.1" stroke="#262626" stroke-width="2.1"/>
<line x1="296.53" x2="296.53" y1="1151.6" y2="1168.1" stroke="#262626" stroke-width="2.1"/>
<line x1="316.62" x2="316.62" y1="1151.6" y2="1168.1" stroke="#262626" stroke-width="2.1"/>
<line x1="336.71" x2="336.71" y1="1151.6" y2="1168.1" stroke="#262626" stroke-width="2.1"/>
<line x1="356.80" x2="356.80" y1="1151.6" y2="1168.1" stroke="#262626" stroke-width="2.1"/>
<line x1="376.89" x2="376.89" y1="1151.6" y2="1168.1" stroke="#262626" stroke-width="2.1"/>
<line x1="396.98" x2="396.98" y1="1151.6" y2="1168.1" stroke="#262626" stroke-width="2.1"/>
<line x1="417.07" x2="417.07" y1="1151.6" y2="1168.1" stroke="#262626" stroke-width="2.1"/>
<line x1="437.16" x2="437.16" y1="1151.6" y2="1168.1" stroke="#262626" stroke-width="2.1"/>
<line x1="457.25" x2="457.25" y1="1151.6" y2="1168.1" stroke="#262626" stroke-width="2.1"/>
<line x1="477.34" x2="477.34" y1="1151.6" y2="1168.1" stroke="#262626" stroke-width="2.1"/>
<line x1="497.43" x2="497.43" y1="1151.6" y2="1168.1" stroke="#262626" stroke-width="2.1"/>
<line x1="517.52" x2="517.52" y1="1151.6" y2="1168.1" stroke="#262626" stroke-width="2.1"/>
<line x1="537.61" x2="537.61" y1="1151.6" y2="1168.1" stroke="#262626" stroke-width="2.1"/>
<line x1="557.70" x2="557.70" y1="1151.6" y2="1168.1" stroke="#262626" stroke-width="2.1"/>
<line x1="577.79" x2="577.79" y1="1151.6" y2="1168.1" stroke="#262626" stroke-width="2.1"/>
<line x1="597.88" x2="597.88" y1="1151.6" y2="1168.1" stroke="#262626" stroke-width="2.1"/>
<line x1="617.97" x2="617.97" y1="1151.6" y2="1168.1" stroke="#262626" stroke-width="2.1"/>
<line x1="638.06" x2="638.06" y1="1151.6" y2="1168.1" stroke="#262626" stroke-width="2.1"/>
<line x1="658.15" x2="658.15" y1="1151.6" y2="1168.1" stroke="#262626" stroke-width="2.1"/>
<line x1="678.24" x2="678.24" y1="1151.6" y2="1168.1" stroke="#262626" stroke-width="2.1"/>
<line x1="698.33" x2="698.33" y1="1151.6" y2="1168.1" stroke="#262626" stroke-width="2.1"/>
<line x1="718.42" x2="718.42" y1="1151.6" y2="1168.1" stroke="#262626" stroke-width="2.1"/>
<line x1="738.51" x2="738.51" y1="1151.6" y2="1168.1" stroke="#262626" stroke-width="2.1"/>
<line x1="758.60" x2="758.60" y1="1151.6" y2="1168.1" stroke="#262626" stroke-width="2.1"/>
<line x1="778.69" x2="778.69" y1="1151.6" y2="1168.1" stroke="#262626" stroke-width="2.1"/>
<line x1="798.78" x2="798.78" y1="1151.6" y2="1168.1" stroke="#262626" stroke-width="2.1"/>
<line x1="818.87" x2="818.87" y1="1151.6" y2="1168.1" stroke="#262626" stroke-width="2.1"/>
<line x1="838.96" x2="838.96" y1="1151.6" y2="1168.1" stroke="#262626" stroke-width="2.1"/>
<line x1="859.05" x2="859.05" y1="1151.6" y2="1168.1" stroke="#262626" stroke-width="2.1"/>
<line x1="879.14" x2="879.14" y1="1151.6" y2="1168.1" stroke="#262626" stroke-width="2.1"/>
<line x1="899.23" x2="899.23" y1="1151.6" y2="1168.1" stroke="#262626" stroke-width="2.1"/>
<line x1="919.32" x2="919.32" y1="1151.6" y2="1168.1" stroke="#262626" stroke-width="2.1"/>
<line x1="939.41" x2="939.41" y1="1151.6" y2="1168.1" stroke="#262626" stroke-width="2.1"/>
<line x1="959.50" x2="959.50" y1="1151.6" y2="1168.1" stroke="#262626" stroke-width="2.1"/>
<text transform="translate(166.40,1184.5) rotate(-90) scale(1,1.02)" text-anchor="end" font-size="27.5" textLength="74.93" lengthAdjust="spacingAndGlyphs">Jun14</text>
<text transform="translate(246.76,1184.5) rotate(-90) scale(1,1.02)" text-anchor="end" font-size="27.5" textLength="71.37" lengthAdjust="spacingAndGlyphs">Oct14</text>
<text transform="translate(327.12,1184.5) rotate(-90) scale(1,1.02)" text-anchor="end" font-size="27.5" textLength="80.48" lengthAdjust="spacingAndGlyphs">Feb15</text>
<text transform="translate(407.48,1184.5) rotate(-90) scale(1,1.02)" text-anchor="end" font-size="27.5" textLength="74.93" lengthAdjust="spacingAndGlyphs">Jun15</text>
<text transform="translate(487.84,1184.5) rotate(-90) scale(1,1.02)" text-anchor="end" font-size="27.5" textLength="71.37" lengthAdjust="spacingAndGlyphs">Oct15</text>
<text transform="translate(568.20,1184.5) rotate(-90) scale(1,1.02)" text-anchor="end" font-size="27.5" textLength="80.48" lengthAdjust="spacingAndGlyphs">Feb16</text>
<text transform="translate(648.56,1184.5) rotate(-90) scale(1,1.02)" text-anchor="end" font-size="27.5" textLength="74.93" lengthAdjust="spacingAndGlyphs">Jun16</text>
<text transform="translate(728.92,1184.5) rotate(-90) scale(1,1.02)" text-anchor="end" font-size="27.5" textLength="71.37" lengthAdjust="spacingAndGlyphs">Oct16</text>
<text transform="translate(809.28,1184.5) rotate(-90) scale(1,1.02)" text-anchor="end" font-size="27.5" textLength="80.48" lengthAdjust="spacingAndGlyphs">Feb17</text>
<text transform="translate(889.64,1184.5) rotate(-90) scale(1,1.02)" text-anchor="end" font-size="27.5" textLength="74.93" lengthAdjust="spacingAndGlyphs">Jun17</text>
<text transform="translate(970.00,1184.5) rotate(-90) scale(1,1.02)" text-anchor="end" font-size="27.5" textLength="71.37" lengthAdjust="spacingAndGlyphs">Oct17</text>
<text x="557.05" y="1294" text-anchor="middle" font-size="27">Month</text>
<text transform="translate(26.5,938.55) rotate(-90) scale(1,1)" text-anchor="middle" font-size="28">Seroprevalence</text>
</g>
</svg>
</body></html>
